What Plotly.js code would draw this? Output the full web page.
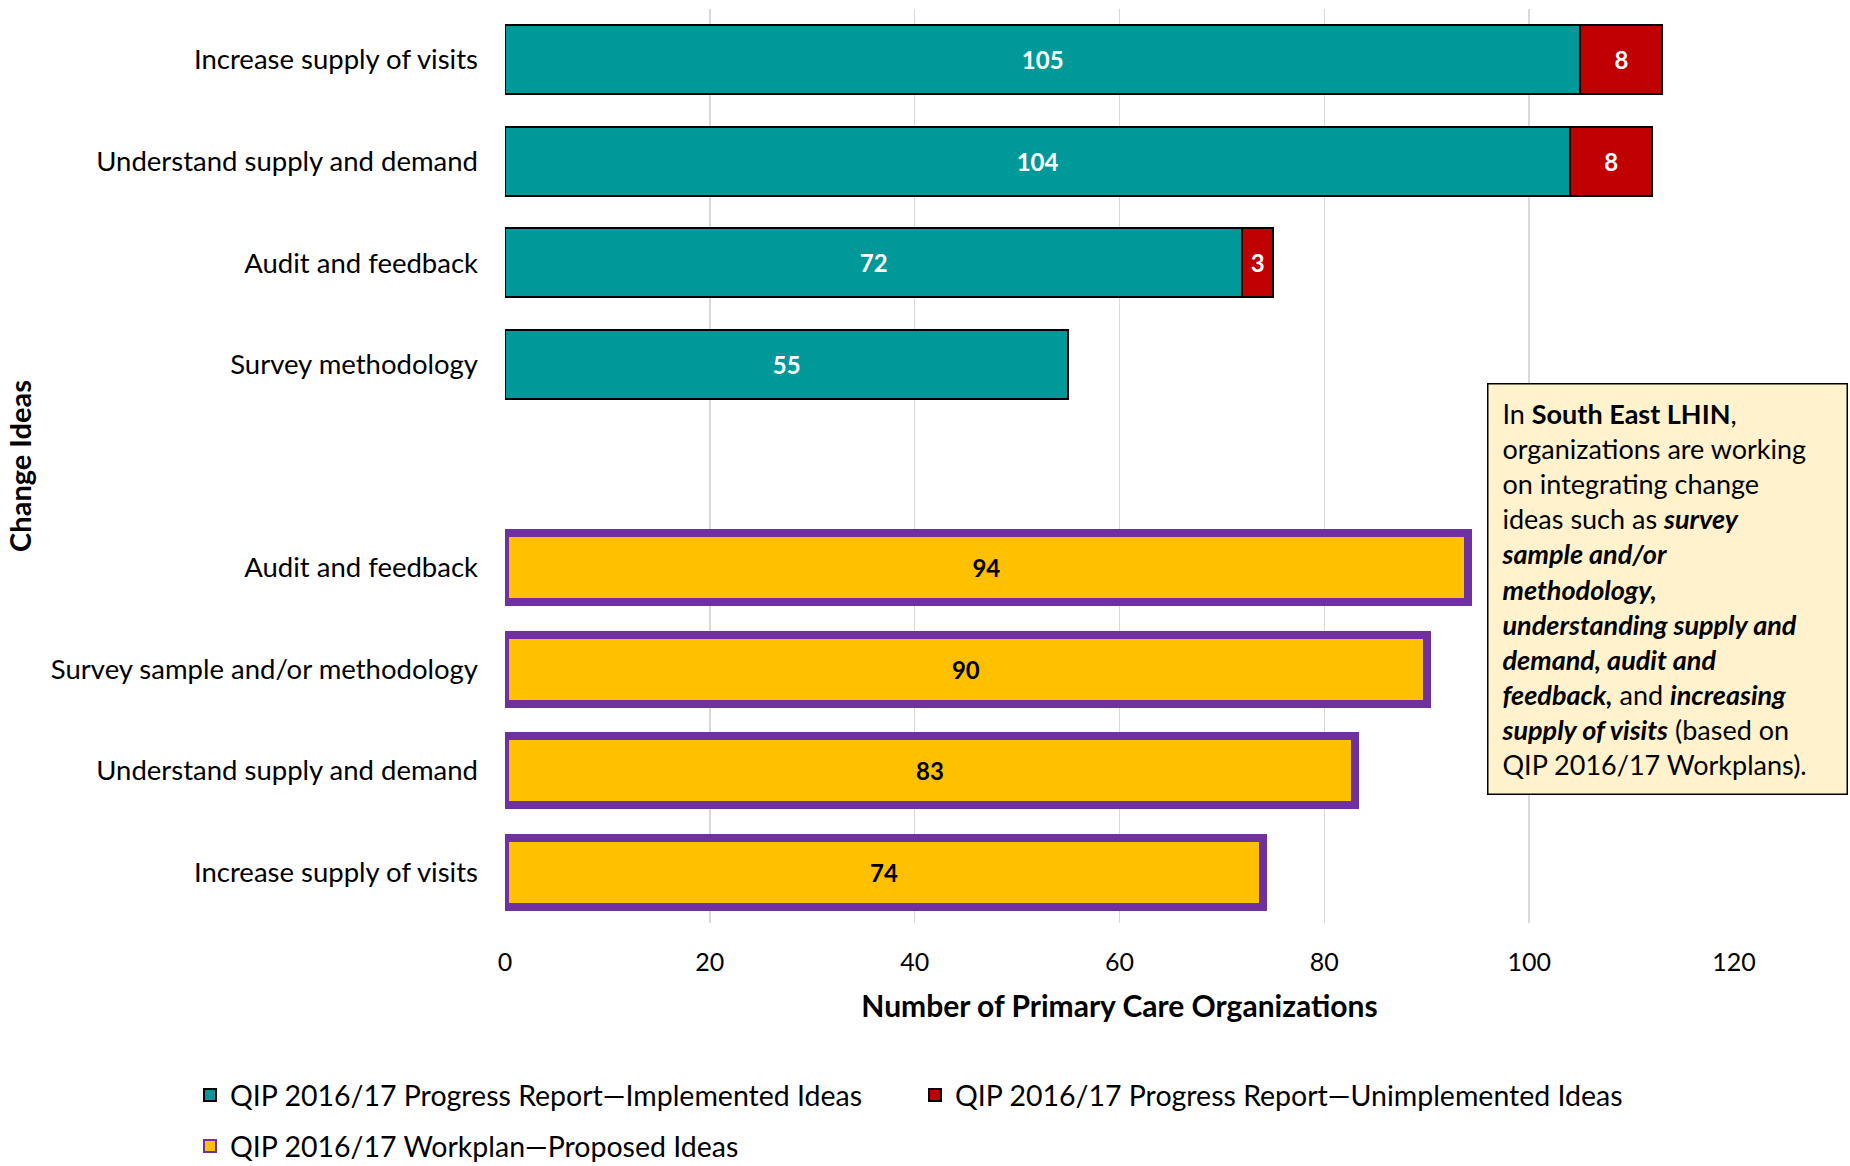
<!DOCTYPE html>
<html>
<head>
<meta charset="utf-8">
<script src="https://cdn.plot.ly/plotly-3.0.1.min.js"></script>
<style>html,body{margin:0;padding:0;background:#fff;}#chart{width:1850px;height:1166px;}</style>
</head>
<body>
<div id="chart"></div>
<script>
// Progress report group (top)
const progressLabels = ['Increase supply of visits', 'Understand supply and demand', 'Audit and feedback', 'Survey methodology'];
const implementedIdeas = [105, 104, 72, 55];
const unimplementedIdeas = [8, 8, 3, null];
// Workplan group (bottom)
const workplanLabels = ['Audit and feedback', 'Survey sample and/or methodology', 'Understand supply and demand', 'Increase supply of visits'];
const proposedIdeas = [94, 90, 83, 74];
// x axis ticks
const xTicks = [0, 20, 40, 60, 80, 100, 120];

const seriesNames = [
  'QIP 2016/17 Progress Report\u2014Implemented Ideas',
  'QIP 2016/17 Progress Report\u2014Unimplemented Ideas',
  'QIP 2016/17 Workplan\u2014Proposed Ideas'
];

// row positions: top group rows 0..3, one blank row, bottom group after it
const topRows = progressLabels.map((_, i) => i);
const bottomRows = workplanLabels.map((_, i) => progressLabels.length + 1 + i);

const FONT = 'Lato, "Noto Sans", sans-serif';

const traces = [
  {
    type: 'bar', orientation: 'h', name: seriesNames[0],
    y: topRows, x: implementedIdeas,
    marker: {color: '#009999', line: {color: '#000000', width: 2}},
    text: implementedIdeas.map(v => v == null ? '' : '<b>' + v + '</b>'),
    textposition: 'inside', insidetextanchor: 'middle', textangle: 0,
    constraintext: 'none',
    textfont: {family: FONT, size: 24, color: '#ffffff'},
    legend: 'legend', hoverinfo: 'x+name'
  },
  {
    type: 'bar', orientation: 'h', name: seriesNames[1],
    y: topRows, x: unimplementedIdeas,
    marker: {color: '#C00000', line: {color: '#000000', width: 2}},
    text: unimplementedIdeas.map(v => v == null ? '' : '<b>' + v + '</b>'),
    textposition: 'inside', insidetextanchor: 'middle', textangle: 0,
    constraintext: 'none',
    textfont: {family: FONT, size: 24, color: '#ffffff'},
    legend: 'legend', hoverinfo: 'x+name'
  },
  {
    type: 'bar', orientation: 'h', name: seriesNames[2],
    y: bottomRows, x: proposedIdeas,
    marker: {color: '#FFC000', line: {color: '#7030A0', width: 8}},
    text: proposedIdeas.map(v => '<b>' + v + '</b>'),
    textposition: 'inside', insidetextanchor: 'middle', textangle: 0,
    constraintext: 'none',
    textfont: {family: FONT, size: 24, color: '#000000'},
    showlegend: false, hoverinfo: 'x+name'
  },
  {
    // legend-only entry for the proposed-ideas series (thin outline swatch)
    type: 'bar', orientation: 'h', name: seriesNames[2],
    y: [null], x: [null],
    marker: {color: '#FFC000', line: {color: '#7030A0', width: 2}},
    legend: 'legend2', showlegend: true, hoverinfo: 'skip'
  }
];

const W = 1850, H = 1166;
const m = {l: 505, r: 116, t: 9, b: 243, autoexpand: false};
const plotW = W - m.l - m.r, plotH = H - m.t - m.b;
const px2x = p => (p - m.l) / plotW;
const px2y = p => (H - m.b - p) / plotH;

const boxText =
  'In <b>South East LHIN</b>,<br>' +
  'organizations are working<br>' +
  'on integrating change<br>' +
  'ideas such as <b><i>survey</i></b><br>' +
  '<b><i>sample and/or</i></b><br>' +
  '<b><i>methodology,</i></b><br>' +
  '<b><i>understanding supply and</i></b><br>' +
  '<b><i>demand, audit and</i></b><br>' +
  '<b><i>feedback,</i></b> and <b><i>increasing</i></b><br>' +
  '<b><i>supply of visits</i></b> (based on<br>' +
  'QIP 2016/17 Workplans).';

const layout = {
  width: W, height: H,
  margin: m,
  paper_bgcolor: '#ffffff', plot_bgcolor: '#ffffff',
  font: {family: FONT, size: 27, color: '#000000'},
  barmode: 'stack',
  bargap: 0.32,
  showlegend: true,
  xaxis: {
    range: [0, 120], tickvals: xTicks, ticktext: xTicks.map(String),
    showgrid: true, gridcolor: '#D9D9D9', gridwidth: 1.5,
    zeroline: false, showline: false, ticks: '',
    ticklabelstandoff: 22,
    tickfont: {family: FONT, size: 25, color: '#000000'},
    title: {text: '<b>Number of Primary Care Organizations</b>', font: {family: FONT, size: 30, color: '#000000'}, standoff: 20},
    fixedrange: true
  },
  yaxis: {
    range: [progressLabels.length + workplanLabels.length + 0.5, -0.5],
    tickvals: topRows.concat(bottomRows),
    ticktext: progressLabels.concat(workplanLabels),
    showgrid: false, zeroline: false, showline: false, ticks: '',
    ticklabelstandoff: 26,
    tickfont: {family: FONT, size: 27.5, color: '#000000'},
    title: {text: '<b>Change Ideas</b>', font: {family: FONT, size: 29, color: '#000000'}, standoff: 10},
    fixedrange: true
  },
  legend: {
    orientation: 'h', x: px2x(190), xanchor: 'left', y: px2y(1070), yanchor: 'top',
    font: {family: FONT, size: 28.5, color: '#000000'},
    entrywidth: 680, itemwidth: 30, traceorder: 'normal'
  },
  legend2: {
    orientation: 'h', x: px2x(190), xanchor: 'left', y: px2y(1121), yanchor: 'top',
    font: {family: FONT, size: 28.5, color: '#000000'},
    itemwidth: 30
  },
  annotations: [{
    xref: 'paper', yref: 'paper',
    x: px2x(1487), xanchor: 'left',
    y: px2y(383), yanchor: 'top',
    text: boxText, showarrow: false, align: 'left', valign: 'middle',
    width: 332, height: 383,
    bgcolor: '#FFF2CC', bordercolor: '#000000', borderwidth: 1.5, borderpad: 13,
    font: {family: FONT, size: 27, color: '#000000'}
  }]
};

Plotly.newPlot('chart', traces, layout, {displayModeBar: false, staticPlot: true});
</script>
</body>
</html>
